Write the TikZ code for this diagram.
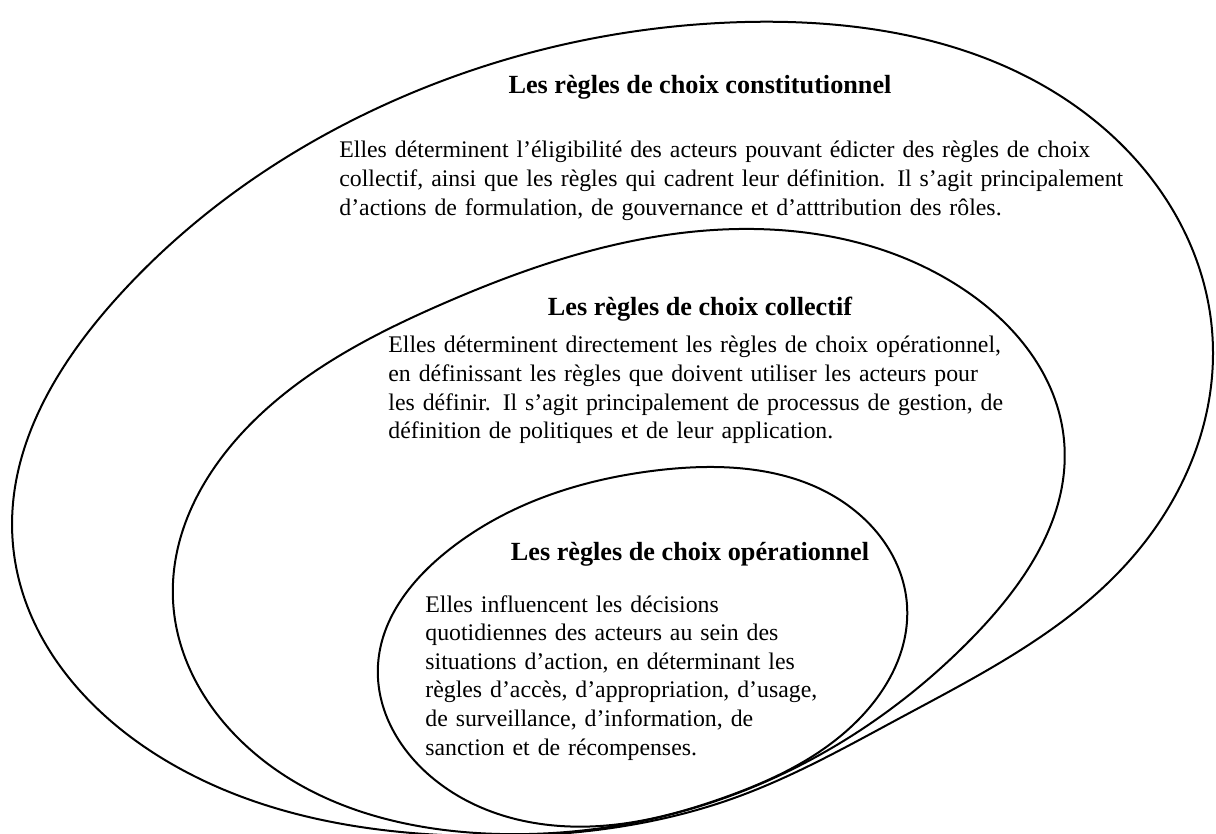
\documentclass[tikz,border=0pt]{standalone}
\usepackage{fontspec}
\setmainfont{Liberation Serif}
\usetikzlibrary{positioning,hobby}
\tikzset{
  titre/.style={anchor=base, inner sep=0pt,
    font=\fontsize{13.1}{14.3}\selectfont\bfseries},
  texte/.style={anchor=base west, inner sep=0pt, align=left,
    text width=#1, font=\fontsize{11.9}{14.3}\selectfont},
  contour/.style={draw, line width=1pt, use Hobby shortcut, closed=true},
}

\begin{document}
\begin{tikzpicture}[x=0.5pt, y=-0.5pt]
        \useasboundingbox (0,0) rectangle (1216,834);

        % choix constitutionnel
        \draw [contour] (745,22) .. (1100,125) .. (1212,330) .. (1130,560)
          .. (900,718) .. (737,797) .. (470,836) .. (160,757) .. (13,545)
          .. (115,300) .. (382,106);

        % choix collectif
        \draw [contour] (690,232) .. (960,287) .. (1064,440) .. (975,635)
          .. (730,796) .. (500,834) .. (240,740) .. (173,600) .. (262,413)
          .. (440,305);

        % choix operationnel
        \draw [contour] (660,470) .. (860,515) .. (907,605) .. (853,725)
          .. (720,799) .. (600,826) .. (435,780) .. (378,665) .. (445,553);

        \node (constit) [titre] at (700,94) {Les règles de choix constitutionnel};
        \node (constitTxt) [texte=450pt] at (339,158) {
          Elles déterminent l’éligibilité des acteurs pouvant édicter des règles de choix\\
          collectif, ainsi que les règles qui cadrent leur définition. Il s’agit principalement\\
          d’actions de formulation, de gouvernance et d’atttribution des rôles.};

        \node (collect) [titre] at (700,316) {Les règles de choix collectif};
        \node (collectTxt) [texte=360pt] at (388,353) {
          Elles déterminent directement les règles de choix opérationnel,\\
          en définissant les règles que doivent utiliser les acteurs pour\\
          les définir. Il s’agit principalement de processus de gestion, de\\
          définition de politiques et de leur application.};

        \node (operat) [titre] at (690,560) {Les règles de choix opérationnel};
        \node (operatTxt) [texte=260pt] at (425,612) {
          Elles influencent les décisions\\
          quotidiennes des acteurs au sein des\\
          situations d’action, en déterminant les\\
          règles d’accès, d’appropriation, d’usage,\\
          de surveillance, d’information, de\\
          sanction et de récompenses.};
\end{tikzpicture}
\end{document}
